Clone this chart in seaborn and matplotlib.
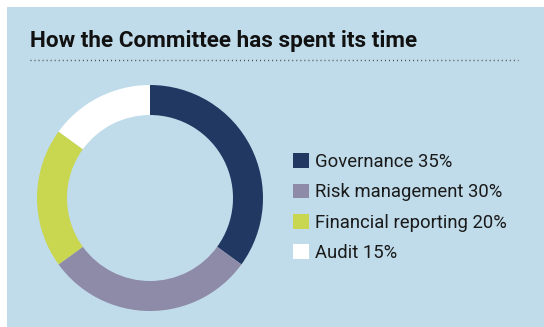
import matplotlib
matplotlib.use("Agg")
import matplotlib.pyplot as plt
from matplotlib.patches import Rectangle
from matplotlib.lines import Line2D
import seaborn as sns

# Share of the Committee's time by topic
categories = ["Governance", "Risk management", "Financial reporting", "Audit"]
shares = [35, 30, 20, 15]
title = "How the Committee has spent its time"

sns.set_style("white")
plt.rcParams["font.family"] = ["Roboto", "DejaVu Sans"]

panel_bg = "#c0dcea"
colors = sns.color_palette(["#213863", "#8e8ba8", "#c9d64f", "#ffffff"])

W, H = 544, 327
fig = plt.figure(figsize=(W / 100, H / 100), dpi=100, facecolor="white")

# light blue panel behind everything
fig.patches.append(Rectangle((7 / W, 0), 1 - 7 / W, 1 - 7 / H,
                             transform=fig.transFigure, facecolor=panel_bg,
                             edgecolor="none", zorder=-5))

fig.text(30 / W, 1 - 46.5 / H, title, fontsize=16.2, fontweight="bold",
         color="#111111", va="baseline", ha="left")
fig.lines.append(Line2D([30 / W, 518 / W], [1 - 60 / H, 1 - 60 / H],
                        transform=fig.transFigure, color="#444444",
                        linewidth=1.0, dashes=(0.7, 2.2)))

# donut
cx, cy, r = 150, 198, 113
ax = fig.add_axes([(cx - r) / W, (H - cy - r) / H, 2 * r / W, 2 * r / H])
ax.set_zorder(2)
ax.set_facecolor("none")
wedges, _ = ax.pie(shares, colors=colors, startangle=90, counterclock=False,
                   radius=1.0, wedgeprops=dict(width=30 / 113, linewidth=0))
ax.set_xlim(-1, 1)
ax.set_ylim(-1, 1)
ax.set_aspect("equal")
ax.axis("off")

labels = [f"{c} {v}%" for c, v in zip(categories, shares)]
leg = fig.legend(wedges, labels, loc="upper left",
                 bbox_to_anchor=(284 / W, 1 - 144 / H), frameon=False,
                 fontsize=13.3, handlelength=0.86, handleheight=0.86,
                 handletextpad=0.34, labelspacing=0.66, borderpad=0,
                 labelcolor="#1a1a1a")
leg.set_zorder(3)

fig.savefig("out.png", dpi=100, facecolor="white")
